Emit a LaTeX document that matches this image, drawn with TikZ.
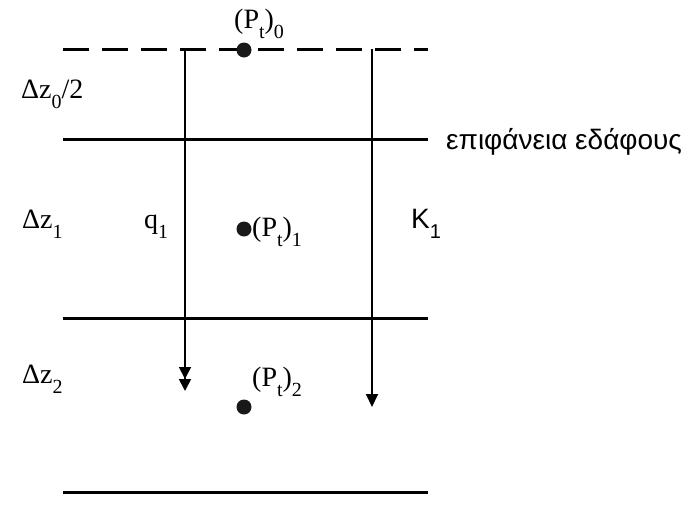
\documentclass[tikz,border=0pt]{standalone}
\usepackage{fontspec}
\setmainfont{Liberation Serif}
\newfontfamily\greekfont{Liberation Sans}
\usetikzlibrary{arrows.meta}
\newcommand{\lowsub}[1]{\raisebox{-0.38em}{\fontsize{20}{20}\selectfont #1}}

\begin{document}
\begin{tikzpicture}[x=1pt, y=-1pt,
  layerline/.style={line width=3pt},
  topline/.style={line width=3pt, dash pattern=on 26pt off 13pt},
  fluxarrow/.style={line width=1.8pt, -{Triangle[width=12pt,length=13pt]}},
  dblarrow/.style={line width=1.8pt, -{Triangle[width=12pt,length=12pt] Triangle[width=12pt,length=12pt]}},
  dot/.style={circle, fill=black!90, inner sep=0pt, minimum size=15pt},
  lbl/.style={font=\fontsize{28}{30}\selectfont, inner sep=0pt, anchor=base west},
  sanslbl/.style={font=\greekfont\fontsize{28}{30}\selectfont, inner sep=0pt, anchor=base west}
]
  \useasboundingbox (0,0) rectangle (683,504);

  % layer boundaries
  \coordinate (top w) at (63,49);   \coordinate (top e) at (428,49);
  \coordinate (surf w) at (63,139); \coordinate (surf e) at (428,139);
  \coordinate (mid w) at (63,318);  \coordinate (mid e) at (428,318);
  \coordinate (bot w) at (63,492);  \coordinate (bot e) at (428,492);

  \draw[topline] (top w) -- (top e);
  \draw[layerline] (surf w) -- (surf e);
  \draw[layerline] (mid w) -- (mid e);
  \draw[layerline] (bot w) -- (bot e);

  % fluxes
  \coordinate (q start) at (185,49); \coordinate (q end) at (185,391);
  \coordinate (k start) at (372,49); \coordinate (k end) at (372,407);
  \draw[dblarrow] (q start) -- (q end);
  \draw[fluxarrow] (k start) -- (k end);

  % pressure points
  \node[dot] (p0) at (244,50)  {};
  \node[dot] (p1) at (244,229) {};
  \node[dot] (p2) at (244,407) {};

  \node[lbl] (p0lab) at (234,28)  {(P\lowsub{t})\lowsub{0}};
  \node[lbl] (p1lab) at (252,236) {(P\lowsub{t})\lowsub{1}};
  \node[lbl] (p2lab) at (252,386) {(P\lowsub{t})\lowsub{2}};

  \node[lbl] (dz0) at (21,98)  {Δz\lowsub{0}/2};
  \node[lbl] (dz1) at (22,228) {Δz\lowsub{1}};
  \node[lbl] (dz2) at (22,383) {Δz\lowsub{2}};
  \node[lbl] (q1)  at (144,228) {q\lowsub{1}};

  \node[sanslbl] (k1)   at (411,228) {K\lowsub{1}};
  \node[sanslbl] (surf) at (446,149) {επιφάνεια εδάφους};
\end{tikzpicture}
\end{document}
